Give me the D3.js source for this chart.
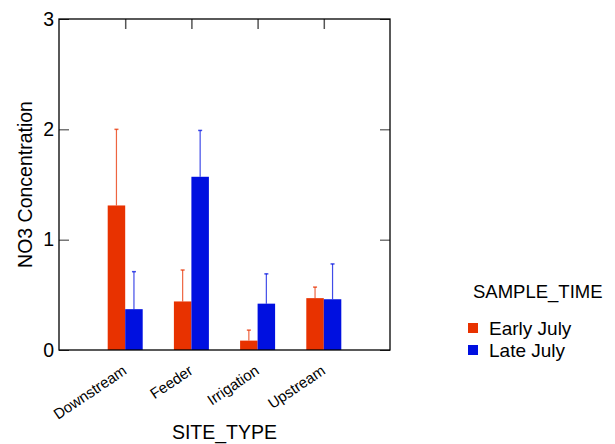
<!DOCTYPE html>
<html>
<head>
<meta charset="utf-8">
<script src="https://cdn.jsdelivr.net/npm/d3@7"></script>
<style>
  body { margin: 0; background: #fff; }
  text { font-family: "Liberation Sans", Arial, sans-serif; fill: #000; }
</style>
</head>
<body>
<div id="chart"></div>
<script>
// data
const siteTypes = ["Downstream", "Feeder", "Irrigation", "Upstream"];
const sampleTimes = ["Early July", "Late July"];
const earlyJuly = [1.31, 0.44, 0.085, 0.47];
const earlyJulyErr = [2.0, 0.725, 0.18, 0.57];
const lateJuly = [0.37, 1.57, 0.42, 0.46];
const lateJulyErr = [0.71, 1.99, 0.69, 0.78];
const yTicks = [0, 1, 2, 3];
const colors = ["#e83200", "#0010e0"];

const W = 615, H = 444;
const margin = { top: 19, right: 225, bottom: 94, left: 59 },
  width = W - margin.left - margin.right,
  height = H - margin.top - margin.bottom;

const svg = d3.select("#chart")
  .append("svg")
  .attr("width", W)
  .attr("height", H);

const g = svg.append("g")
  .attr("transform", "translate(" + margin.left + "," + margin.top + ")");

const x = d3.scalePoint()
  .domain(siteTypes)
  .range([0, width])
  .padding(1);
const y = d3.scaleLinear()
  .domain([0, 3])
  .range([height, 0]);

const barW = 17.5;
const series = [
  { name: sampleTimes[0], vals: earlyJuly, errs: earlyJulyErr, color: colors[0], off: -barW },
  { name: sampleTimes[1], vals: lateJuly, errs: lateJulyErr, color: colors[1], off: 0 }
];

// bars + error bars
series.forEach(s => {
  const rows = siteTypes.map((c, i) => ({ c: c, v: s.vals[i], e: s.errs[i] }));
  g.selectAll(null)
    .data(rows)
    .enter().append("rect")
    .attr("x", d => x(d.c) + s.off)
    .attr("width", barW)
    .attr("y", d => y(d.v))
    .attr("height", d => height - y(d.v))
    .attr("fill", s.color);

  g.selectAll(null)
    .data(rows)
    .enter().append("line")
    .attr("x1", d => x(d.c) + s.off + barW / 2)
    .attr("x2", d => x(d.c) + s.off + barW / 2)
    .attr("y1", d => y(d.v))
    .attr("y2", d => y(d.e))
    .attr("stroke", s.color)
    .attr("stroke-opacity", 0.75)
    .attr("stroke-width", 1.2);

  g.selectAll(null)
    .data(rows)
    .enter().append("line")
    .attr("x1", d => x(d.c) + s.off + barW / 2 - 2)
    .attr("x2", d => x(d.c) + s.off + barW / 2 + 2)
    .attr("y1", d => y(d.e))
    .attr("y2", d => y(d.e))
    .attr("stroke", s.color)
    .attr("stroke-opacity", 0.75)
    .attr("stroke-width", 1.5);
});

// axes, ticks drawn inward
const tickLen = 10;
g.append("g")
  .call(d3.axisLeft(y).tickValues(yTicks).tickFormat(d3.format("d")).tickSizeInner(-tickLen).tickSizeOuter(0).tickPadding(5))
  .call(a => a.select(".domain").remove())
  .call(a => a.selectAll("line").attr("stroke", "#333"))
  .call(a => a.selectAll("text").style("font-size", "19.5px"));

g.append("g")
  .attr("transform", "translate(" + width + ",0)")
  .call(d3.axisRight(y).tickValues(yTicks).tickFormat("").tickSizeInner(-tickLen).tickSizeOuter(0))
  .call(a => a.select(".domain").remove())
  .call(a => a.selectAll("line").attr("stroke", "#333"));

g.append("g")
  .call(d3.axisTop(x).tickFormat("").tickSizeInner(-tickLen).tickSizeOuter(0))
  .call(a => a.select(".domain").remove())
  .call(a => a.selectAll("line").attr("stroke", "#555").attr("stroke-width", 1.5));

const xAxis = g.append("g")
  .attr("transform", "translate(0," + height + ")")
  .call(d3.axisBottom(x).tickSize(0));
xAxis.select(".domain").remove();
xAxis.selectAll("text")
  .style("font-size", "15px")
  .style("text-anchor", "end")
  .attr("y", 0)
  .attr("dy", 0)
  .attr("transform", "translate(2,23) rotate(-34)");

// frame
g.append("rect")
  .attr("width", width)
  .attr("height", height)
  .attr("fill", "none")
  .attr("stroke", "#000")
  .attr("stroke-width", 1.3);

// axis titles
svg.append("text")
  .attr("transform", "translate(32," + (margin.top + height / 2) + ") rotate(-90)")
  .attr("text-anchor", "middle")
  .style("font-size", "19.5px")
  .text("NO3 Concentration");

svg.append("text")
  .attr("x", margin.left + width / 2)
  .attr("y", 439)
  .attr("text-anchor", "middle")
  .style("font-size", "19.5px")
  .text("SITE_TYPE");

// legend
const legend = svg.append("g").attr("transform", "translate(468,298)");
legend.append("text")
  .attr("x", 5)
  .attr("y", 0)
  .style("font-size", "18.5px")
  .text("SAMPLE_TIME");
series.forEach((s, i) => {
  legend.append("rect")
    .attr("x", 0)
    .attr("y", 25 + i * 22)
    .attr("width", 10)
    .attr("height", 10)
    .attr("fill", s.color);
  legend.append("text")
    .attr("x", 21)
    .attr("y", 37 + i * 22)
    .style("font-size", "19px")
    .text(s.name);
});
</script>
</body>
</html>
